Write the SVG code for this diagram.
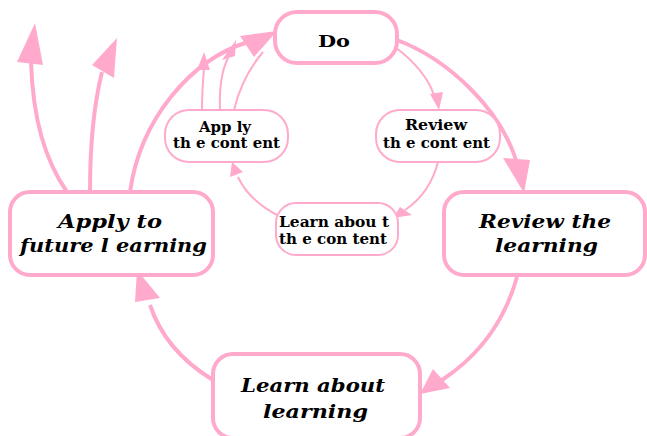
<svg xmlns="http://www.w3.org/2000/svg" width="647" height="436" viewBox="0 0 647 436">
<style>
.big{fill:#fff;stroke:#ffaacc;stroke-width:4}
.small{fill:#fff;stroke:#ffaacc;stroke-width:2}
.t{font-family:"DejaVu Serif","Liberation Serif",serif;font-weight:bold;fill:#000}
.bt{font-size:19px;font-style:italic}
.st{font-size:14px}
.e1{fill:none;stroke:#ffaacc;stroke-width:4}
.e2{fill:none;stroke:#ffaacc;stroke-width:2}
.ah{fill:#ffaacc;stroke:none}
</style>
<rect width="647" height="436" fill="#fff"/>
<g id="edges">
<path class="e1" d="M397,40 C450,60 500,110 516,160"/>
<polygon class="ah" points="503,158 530,160 524,193"/>
<path class="e1" d="M517,277 C505,320 480,355 442,380"/>
<polygon class="ah" points="433,369 450,388 420,394"/>
<path class="e1" d="M213,380 C180,360 160,335 150,305"/>
<polygon class="ah" points="135,302 160,298 137,270"/>
<path class="e1" d="M130,192 C140,120 190,60 248,42"/>
<polygon class="ah" points="240,36 254,57 277,31"/>
<path class="e1" d="M67,192 C45,160 33,120 31,62"/>
<polygon class="ah" points="17,62 43,65 35,23"/>
<path class="e1" d="M90,192 C90,140 95,100 102,72"/>
<polygon class="ah" points="92,65 114,78 117,38"/>
<path class="e2" d="M395,47 C415,62 428,78 434,95"/>
<polygon class="ah" points="430,94 443,92 439,110"/>
<path class="e2" d="M438,162 C432,185 420,200 405,210"/>
<polygon class="ah" points="400,207 412,215 393,218"/>
<path class="e2" d="M277,215 C258,205 245,192 238,177"/>
<polygon class="ah" points="230,177 243,172 232,162"/>
<path class="e2" d="M202,110 C202,95 203,80 204,68"/>
<polygon class="ah" points="197,70 210,70 204,52"/>
<path class="e2" d="M220,110 C219,85 222,70 228,58"/>
<polygon class="ah" points="222,60 235,56 236,40"/>
<path class="e2" d="M234,110 C240,85 252,65 263,52"/>
<polygon class="ah" points="254,55 265,46 275,38"/>
</g>
<g id="do">
<rect class="big" x="275" y="12" width="122" height="51" rx="22"/>
<text class="t" x="318" y="47" font-size="17" textLength="32" lengthAdjust="spacingAndGlyphs">Do</text>
</g>
<g id="apply-future">
<rect class="big" x="10" y="192" width="203" height="83" rx="20"/>
<text class="t bt" x="58" y="228" textLength="104" lengthAdjust="spacingAndGlyphs">Apply to</text>
<text class="t bt" x="20" y="252" textLength="187" lengthAdjust="spacingAndGlyphs">future l earning</text>
</g>
<g id="review-learning">
<rect class="big" x="444" y="192" width="201" height="83" rx="20"/>
<text class="t bt" x="479" y="228" textLength="132" lengthAdjust="spacingAndGlyphs">Review the</text>
<text class="t bt" x="495" y="252" textLength="103" lengthAdjust="spacingAndGlyphs">learning</text>
</g>
<g id="learn-learning">
<rect class="big" x="213" y="354" width="207" height="84" rx="20"/>
<text class="t bt" x="241" y="392" textLength="144" lengthAdjust="spacingAndGlyphs">Learn about</text>
<text class="t bt" x="263" y="418" textLength="105" lengthAdjust="spacingAndGlyphs">learning</text>
</g>
<g id="apply-content">
<rect class="small" x="165" y="110" width="123" height="52" rx="24"/>
<text class="t st" x="199" y="132" textLength="52" lengthAdjust="spacingAndGlyphs">App ly</text>
<text class="t st" x="173" y="148" textLength="107" lengthAdjust="spacingAndGlyphs">th e cont ent</text>
</g>
<g id="review-content">
<rect class="small" x="376" y="110" width="124" height="52" rx="24"/>
<text class="t st" x="405" y="130" textLength="62" lengthAdjust="spacingAndGlyphs">Review</text>
<text class="t st" x="383" y="148" textLength="107" lengthAdjust="spacingAndGlyphs">th e cont ent</text>
</g>
<g id="learn-content">
<rect class="small" x="276" y="203" width="122" height="52" rx="20"/>
<text class="t st" x="279" y="227" textLength="110" lengthAdjust="spacingAndGlyphs">Learn  abou t</text>
<text class="t st" x="279" y="244" textLength="108" lengthAdjust="spacingAndGlyphs">th e con tent</text>
</g>
</svg>
